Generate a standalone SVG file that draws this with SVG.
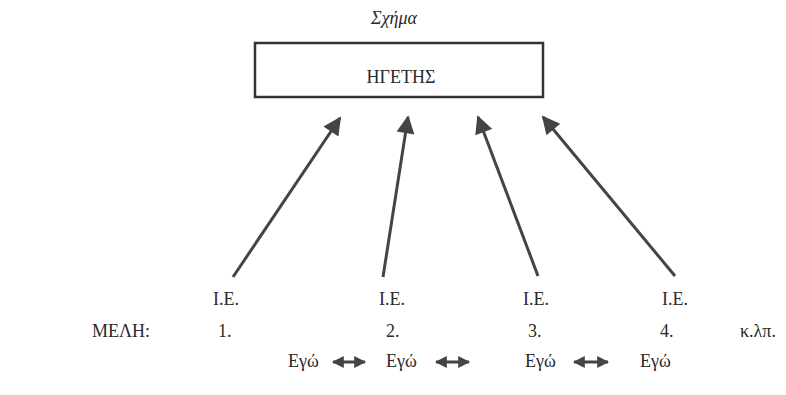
<svg xmlns="http://www.w3.org/2000/svg" width="786" height="395" viewBox="0 0 786 395">
<style>
text{font-family:"Liberation Serif","Times New Roman",serif;fill:#2a2a2a;font-size:18px}
.c{stroke:#444;stroke-width:3;fill:none}
.d{stroke:#444;stroke-width:3;fill:none}
</style>
<defs>
<marker id="ah" viewBox="0 0 10 10" refX="9" refY="5" markerWidth="7" markerHeight="6" markerUnits="strokeWidth" orient="auto"><path d="M0,0 L10,5 L0,10 z" fill="#444"/></marker>
<marker id="sa" viewBox="0 0 10 10" refX="9" refY="5" markerWidth="4" markerHeight="4" markerUnits="strokeWidth" orient="auto-start-reverse"><path d="M0,0 L10,5 L0,10 z" fill="#444"/></marker>
</defs>
<rect width="786" height="395" fill="#fff"/>
<text x="394" y="24" text-anchor="middle" font-style="italic" font-size="19">Σχήμα</text>
<g id="leader">
<rect x="255" y="43" width="288" height="54" fill="#fff" stroke="#333" stroke-width="2.5"/>
<text x="401" y="83" text-anchor="middle" font-size="21">ΗΓΕΤΗΣ</text>
</g>
<g id="connectors">
<line class="c" x1="233" y1="277" x2="340" y2="118" marker-end="url(#ah)"/>
<line class="c" x1="383" y1="277" x2="408" y2="117" marker-end="url(#ah)"/>
<line class="c" x1="538" y1="276" x2="478" y2="117" marker-end="url(#ah)"/>
<line class="c" x1="675" y1="276" x2="543" y2="117" marker-end="url(#ah)"/>
<line class="d" x1="333" y1="362" x2="365" y2="362" marker-start="url(#sa)" marker-end="url(#sa)"/>
<line class="d" x1="436" y1="362" x2="469" y2="362" marker-start="url(#sa)" marker-end="url(#sa)"/>
<line class="d" x1="574" y1="362" x2="608" y2="362" marker-start="url(#sa)" marker-end="url(#sa)"/>
</g>
<g id="ie1"><text x="226" y="305" text-anchor="middle">I.E.</text></g>
<g id="ie2"><text x="392" y="305" text-anchor="middle">I.E.</text></g>
<g id="ie3"><text x="536" y="305" text-anchor="middle">I.E.</text></g>
<g id="ie4"><text x="675" y="305" text-anchor="middle">I.E.</text></g>
<g id="members">
<text x="92" y="337" font-size="19">ΜΕΛΗ:</text>
<text x="218" y="337">1.</text>
<text x="386" y="337">2.</text>
<text x="528" y="337">3.</text>
<text x="660" y="337">4.</text>
<text x="740" y="337">κ.λπ.</text>
</g>
<g id="ego1"><text x="288" y="367">Εγώ</text></g>
<g id="ego2"><text x="386" y="367">Εγώ</text></g>
<g id="ego3"><text x="525" y="367">Εγώ</text></g>
<g id="ego4"><text x="640" y="367">Εγώ</text></g>
</svg>
